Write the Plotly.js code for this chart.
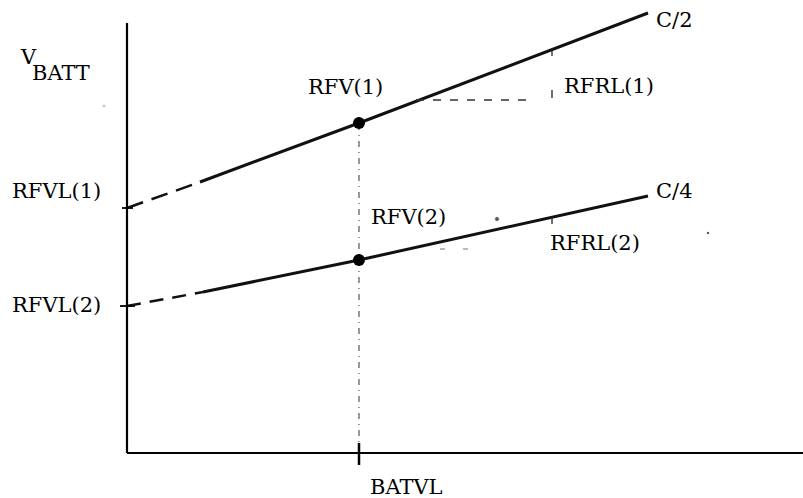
<!DOCTYPE html>
<html>
<head>
<meta charset="utf-8">
<script src="https://cdn.plot.ly/plotly-3.0.1.min.js"></script>
<style>html,body{margin:0;padding:0;background:#fff;}#chart{width:803px;height:498px;}</style>
</head>
<body>
<div id="chart"></div>
<script>
// Schematic values (x: battery level units, y: voltage units)
const BATVL = 232;
const RFRL_X = 425;
const curveNames = ['C/2', 'C/4'];
const RFVL = [245, 147];           // intercepts on V axis
const dashEndX = [73, 76];         // where extrapolated dashed part ends
const dashEndY = [271, 161];
const RFV = [330, 193];            // values at BATVL
const endX = [521, 521];
const endY = [440, 257];
const RFRL1_level = 353;           // dashed horizontal reference
const RFRL1_dashX = [289, 403];
const RFRL2_dashX = [313, 345];
const RFRL2_level = 204;
const speckX = [370, 581, -23];
const speckY = [234, 220, 347];

const font = {family: 'DejaVu Serif', size: 21, color: '#000'};
const traces = [];
for (let i = 0; i < 2; i++) {
  traces.push({x: [0, dashEndX[i]], y: [RFVL[i], dashEndY[i]], mode: 'lines',
    line: {color: '#111', width: 2.5, dash: i === 0 ? '17px,9px' : '14px,9px'}, hoverinfo: 'skip'});
  traces.push({x: [dashEndX[i], BATVL, endX[i]], y: [dashEndY[i], RFV[i], endY[i]], mode: 'lines',
    line: {color: '#111', width: 3}, hoverinfo: 'skip'});
}
// BATVL vertical reference
traces.push({x: [BATVL, BATVL], y: [0, RFV[0]], mode: 'lines',
  line: {color: '#555', width: 1.2, dash: '6px,5px,1px,5px'}, hoverinfo: 'skip'});
// RFRL dashed reference lines
traces.push({x: RFRL1_dashX, y: [RFRL1_level, RFRL1_level], mode: 'lines',
  line: {color: '#333', width: 1.3, dash: '8px,9px'}, hoverinfo: 'skip'});
traces.push({x: RFRL2_dashX, y: [RFRL2_level, RFRL2_level], mode: 'lines',
  line: {color: '#777', width: 1.2, dash: '5px,18px'}, hoverinfo: 'skip'});
// points at BATVL
traces.push({x: [BATVL, BATVL], y: RFV, mode: 'markers',
  marker: {color: '#000', size: 12}, hoverinfo: 'skip'});
// scan specks
traces.push({x: speckX, y: speckY, mode: 'markers',
  marker: {color: '#111', size: [5, 3.5, 2.5]}, hoverinfo: 'skip'});

const shapes = [
  {type: 'line', x0: 0, x1: 676, y0: 0, y1: 0, line: {color: '#000', width: 2.2}},
  {type: 'line', x0: 0, x1: 0, y0: 0, y1: 430, line: {color: '#000', width: 2.2}},
  {type: 'line', x0: BATVL, x1: BATVL, y0: -12, y1: 10, line: {color: '#000', width: 2.5}},
  {type: 'line', x0: -5, x1: 6, y0: RFVL[0], y1: RFVL[0], line: {color: '#000', width: 1.8}},
  {type: 'line', x0: -7, x1: 8, y0: RFVL[1], y1: RFVL[1], line: {color: '#000', width: 1.8}},
  {type: 'line', x0: RFRL_X, x1: RFRL_X, y0: 397, y1: 405, line: {color: '#222', width: 1.3}},
  {type: 'line', x0: RFRL_X, x1: RFRL_X, y0: 355, y1: 363, line: {color: '#222', width: 1.3}},
  {type: 'line', x0: RFRL_X, x1: RFRL_X, y0: 229, y1: 236, line: {color: '#222', width: 1.3}}
];

const ann = (t, x, y, extra) => Object.assign({text: t, x: x, y: y, xref: 'x', yref: 'y',
  showarrow: false, font: font}, extra || {});
const annotations = [
  ann('V', -99, 396),
  ann('BATT', -66, 380),
  ann('RFV(1)', 218, 366),
  ann('RFVL(1)', -71, 262),
  ann('RFVL(2)', -71, 148),
  ann('RFV(2)', 281, 236),
  ann('RFRL(1)', 482, 367),
  ann('RFRL(2)', 468, 210),
  ann(curveNames[0], 547, 433),
  ann(curveNames[1], 547, 262),
  ann('BATVL', 279, -34)
];

const layout = {
  width: 803, height: 498,
  margin: {l: 0, r: 0, t: 0, b: 0},
  paper_bgcolor: '#fff', plot_bgcolor: '#fff',
  showlegend: false,
  xaxis: {range: [-127, 676], visible: false, fixedrange: true},
  yaxis: {range: [-45, 453], visible: false, fixedrange: true},
  shapes: shapes,
  annotations: annotations
};
Plotly.newPlot('chart', traces, layout, {staticPlot: true});
</script>
</body>
</html>
